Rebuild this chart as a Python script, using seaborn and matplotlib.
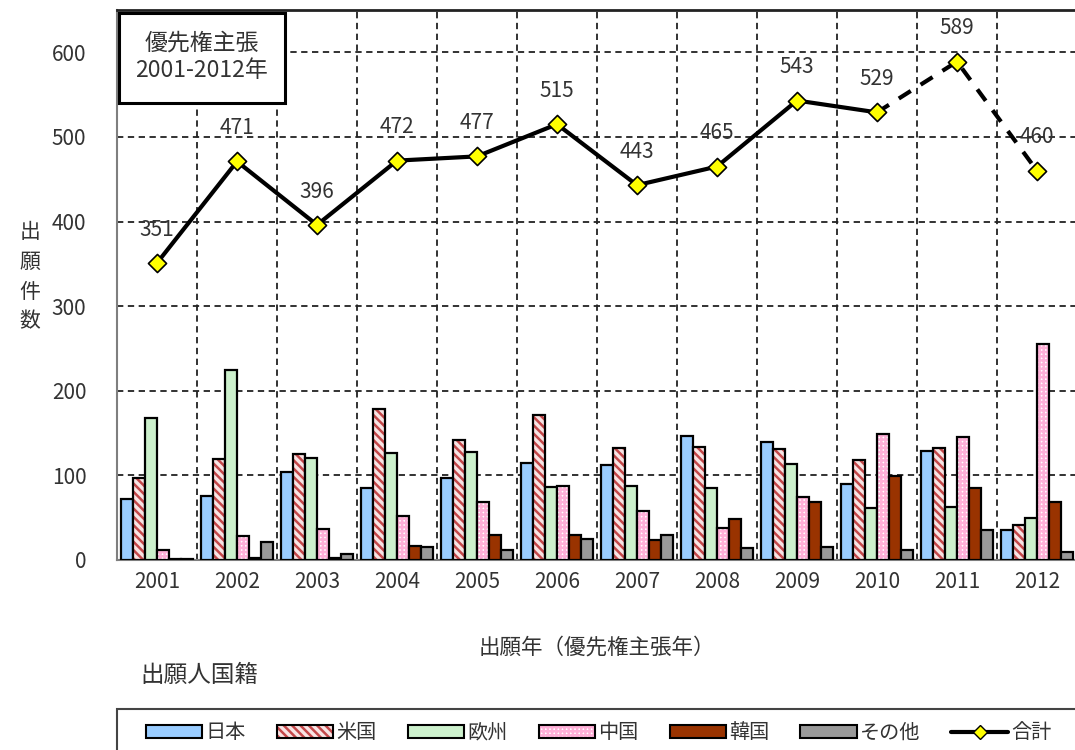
import numpy as np
import pandas as pd
import matplotlib
matplotlib.use("Agg")
import matplotlib.pyplot as plt
import seaborn as sns
from matplotlib.colors import to_rgba
from matplotlib.patches import Patch, Rectangle
from matplotlib.lines import Line2D

# ---- data -------------------------------------------------------------
years = ["2001", "2002", "2003", "2004", "2005", "2006",
         "2007", "2008", "2009", "2010", "2011", "2012"]
countries = ["日本", "米国", "欧州", "中国", "韓国", "その他"]

japan = [72, 76, 104, 85, 97, 115, 112, 147, 140, 90, 129, 36]
usa = [97, 119, 125, 178, 142, 171, 132, 133, 131, 118, 132, 41]
europe = [168, 225, 121, 126, 128, 86, 88, 85, 114, 61, 63, 50]
china = [12, 28, 37, 52, 68, 88, 58, 38, 75, 149, 145, 255]
korea = [1, 2, 2, 16, 30, 30, 24, 48, 68, 99, 85, 69]
other = [1, 21, 7, 15, 12, 25, 29, 14, 15, 12, 35, 9]
totals = [351, 471, 396, 472, 477, 515, 443, 465, 543, 529, 589, 460]

yticks = [0, 100, 200, 300, 400, 500, 600]

# ---- styling ----------------------------------------------------------
face_colors = ["#99ccff", "#f8e4e4", "#ccf0cc", "#ffffff", "#993300", "#999999"]
hatches = [None, "\\\\\\\\", None, "++++", None, None]
hatch_colors = [None, "#c4484a", None, "#ffb0d8", None, None]

sns.set_style("white")
plt.rcParams["font.family"] = ["Noto Sans CJK JP", "DejaVu Sans"]
plt.rcParams["hatch.linewidth"] = 1.8

text_color = "#333333"


def set_hatch_color(patch, color):
    if hasattr(patch, "set_hatchcolor"):
        patch.set_hatchcolor(color)
    else:
        patch._hatch_color = to_rgba(color)


df = pd.DataFrame({
    "year": np.repeat(years, len(countries)),
    "country": countries * len(years),
    "count": np.column_stack([japan, usa, europe, china, korea, other]).ravel(),
})

fig = plt.figure(figsize=(10.75, 7.5), dpi=100)
ax = fig.add_axes([117 / 1075, 1 - 560 / 750, 960 / 1075, 550 / 750])

sns.barplot(data=df, x="year", y="count", hue="country",
            order=years, hue_order=countries,
            palette=dict(zip(countries, face_colors)), saturation=1,
            width=0.9, gap=0, edgecolor="black", linewidth=1.6,
            legend=False, ax=ax, zorder=3)

for cont, h, hc in zip(ax.containers, hatches, hatch_colors):
    if h is None:
        continue
    for bar in cont:
        bar.set_hatch(h)
        set_hatch_color(bar, hc)

# total line: solid up to 2010, dashed afterwards
sns.lineplot(x=years[:10], y=totals[:10], color="black", lw=3,
             ax=ax, zorder=5)
sns.lineplot(x=years[9:], y=totals[9:], color="black", lw=3,
             linestyle=(0, (3.4, 2.8)), ax=ax, zorder=5)
sns.scatterplot(x=years, y=totals, marker="D", s=85, color="#ffff00",
                edgecolor="black", linewidth=1.2, ax=ax, zorder=6)

for i, v in enumerate(totals):
    ax.annotate(str(v), (i, v), xytext=(0, 24), textcoords="offset points",
                ha="center", va="center", fontsize=15, color=text_color,
                zorder=7)

# axes, grid
ax.set_xlim(-0.5, 11.5)
ax.set_ylim(0, 650)
ax.set_yticks(yticks)
ax.set_xticks(np.arange(-0.5, 12, 1), minor=True)
grid_kw = dict(color="#222222", linestyle=(0, (3.5, 2.5)), linewidth=1.3)
ax.yaxis.grid(True, **grid_kw)
ax.xaxis.grid(True, which="minor", **grid_kw)
ax.xaxis.grid(False, which="major")
ax.set_axisbelow(True)
ax.tick_params(axis="both", which="both", length=0, labelsize=15,
               colors=text_color)
ax.tick_params(axis="y", pad=22)
ax.tick_params(axis="x", pad=8)
ax.spines["right"].set_visible(False)
ax.spines["top"].set_color("#222222")
ax.spines["top"].set_linewidth(2)
for s in ("left", "bottom"):
    ax.spines[s].set_color("#7f7f7f")
    ax.spines[s].set_linewidth(1.5)

ax.set_xlabel("出願年（優先権主張年）", fontsize=15.5, color=text_color)
ax.xaxis.label.set_va("center")
ax.xaxis.set_label_coords(0.5, -0.16)
ax.set_ylabel("出\n願\n件\n数", fontsize=15, color=text_color,
              rotation=0, linespacing=1.45, va="center", ha="center")
ax.yaxis.set_label_coords(-0.0906, 0.515)

# title box in the top-left corner
ax.add_patch(Rectangle((0.002, 0.831), 0.173, 0.163, transform=ax.transAxes,
                       facecolor="white", edgecolor="black", lw=2.2,
                       zorder=8))
ax.text(0.0885, 0.915, "優先権主張\n2001-2012年", transform=ax.transAxes,
        ha="center", va="center", fontsize=16.5, color=text_color,
        linespacing=1.3, zorder=9)

fig.text(140 / 1075, 1 - 675 / 750, "出願人国籍", fontsize=17,
         color=text_color, ha="left", va="center")

# legend
handles = []
for fc, h, hc in zip(face_colors, hatches, hatch_colors):
    p = Patch(facecolor=fc, edgecolor="black", linewidth=1.5, hatch=h)
    if hc is not None:
        set_hatch_color(p, hc)
    handles.append(p)
handles.append(Line2D([], [], color="black", lw=3, marker="D",
                      markersize=7, markerfacecolor="#ffff00",
                      markeredgecolor="black", markeredgewidth=1))
labels = countries + ["合計"]

fig.patches.append(Rectangle((117 / 1075, -0.02), 1.0, 0.02 + 1 - 709 / 750,
                             transform=fig.transFigure, facecolor="none",
                             edgecolor="#444444", lw=1.5))
fig.legend(handles, labels, loc="center left",
           bbox_to_anchor=(146 / 1075, 1 - 733 / 750), ncol=7,
           frameon=False, fontsize=14.5, handlelength=2.8, handleheight=0.6,
           handletextpad=0.15, columnspacing=1.55, borderpad=0,
           borderaxespad=0, labelcolor=text_color)

fig.savefig("out.png", dpi=100)
